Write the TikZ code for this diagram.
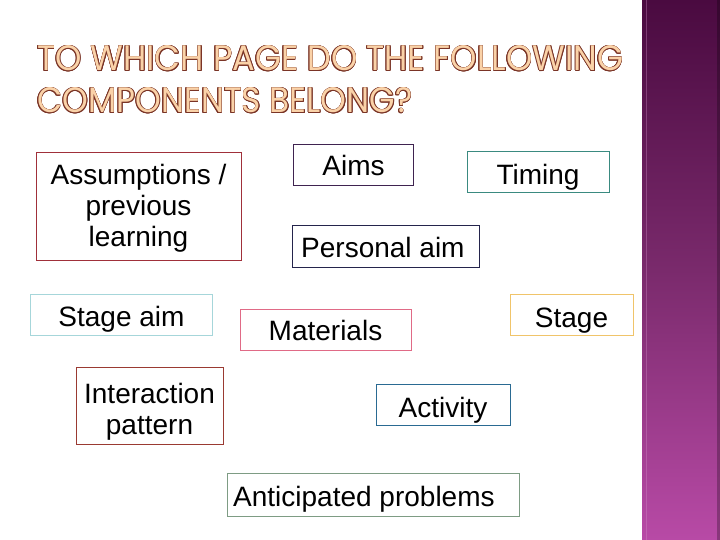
\documentclass[tikz,border=0pt]{standalone}
\usepackage{fontspec}
\setmainfont{Liberation Sans}
\newfontfamily\titlefont{Poppins}
\definecolor{ttlfill}{HTML}{FAD2A8}
\definecolor{ttlstroke}{HTML}{7A3426}
\definecolor{barTop}{HTML}{4A0A40}
\definecolor{barMid}{HTML}{7A2A6C}
\definecolor{barBot}{HTML}{B84AA6}
\definecolor{cAssump}{HTML}{A0303A}
\definecolor{cAims}{HTML}{3F2350}
\definecolor{cTiming}{HTML}{3A8A80}
\definecolor{cPersonal}{HTML}{24244C}
\definecolor{cStageAim}{HTML}{A6D6DA}
\definecolor{cMaterials}{HTML}{E06A86}
\definecolor{cStage}{HTML}{F0C46A}
\definecolor{cInter}{HTML}{9A3A32}
\definecolor{cActivity}{HTML}{2A6A92}
\definecolor{cAntic}{HTML}{7E9C84}
\tikzset{
  boxc/.style={draw=#1, line width=1pt, fill=white, inner sep=0pt},
  lbl/.style={font=\fontsize{28}{31}\selectfont, inner sep=0pt, anchor=base, align=center},
  lbll/.style={font=\fontsize{28}{31}\selectfont, inner sep=0pt, anchor=base west},
  ttl/.style={inner sep=0pt, anchor=base west}
}
\newcommand\tlineA{\resizebox{586pt}{25pt}{\titlefont TO WHICH PAGE DO THE FOLLOWING}}
\newcommand\tlineB{\resizebox{375pt}{25pt}{\titlefont COMPONENTS BELONG?}}
\begin{document}
\begin{tikzpicture}[x=1pt,y=-1pt]
\useasboundingbox (0,0) rectangle (720,540);
\fill[white] (0,0) rectangle (720,540);
% right bar
\shade[top color=barTop, bottom color=barBot, middle color=barMid] (642,0) rectangle (720,540);
\draw[barBot!60!white, opacity=0.35, line width=1.2pt] (646.5,0) -- (646.5,540);
\draw[black, opacity=0.25, line width=3pt] (718.5,0) -- (718.5,540);
% title
\foreach \a in {0,30,...,330}{
  \node[ttl, text=ttlstroke, shift={(\a:0.65pt)}] at (37,71) {\tlineA};
  \node[ttl, text=ttlstroke, shift={(\a:0.65pt)}] at (37,113) {\tlineB};
}
\node[ttl, text=ttlfill] (title1) at (37,71) {\tlineA};
\node[ttl, text=ttlfill] (title2) at (37,113) {\tlineB};
% boxes
\node[boxc=cAssump, minimum width=205pt, minimum height=108pt] (bAssump) at (138.5,206.5) {};
\node[lbl] (tAssump) at (138.5,246) {Assumptions /\\previous\\learning};
\node[boxc=cAims, minimum width=120pt, minimum height=41pt] (bAims) at (353.5,165.5) {};
\node[lbl] (tAims) at (353.5,176) {Aims};
\node[boxc=cTiming, minimum width=142pt, minimum height=41pt] (bTiming) at (538,172.5) {};
\node[lbl] (tTiming) at (538,185) {Timing};
\node[boxc=cPersonal, minimum width=187pt, minimum height=42pt] (bPersonal) at (385.5,246.5) {};
\node[lbll] (tPersonal) at (301,258) {Personal aim};
\node[boxc=cStageAim, minimum width=182pt, minimum height=41pt] (bStageAim) at (121.5,314.5) {};
\node[lbl] (tStageAim) at (121.5,326) {Stage aim};
\node[boxc=cMaterials, minimum width=171pt, minimum height=41pt] (bMaterials) at (325.5,329.5) {};
\node[lbl] (tMaterials) at (325.5,340) {Materials};
\node[boxc=cStage, minimum width=123pt, minimum height=41pt] (bStage) at (571.5,314.5) {};
\node[lbl] (tStage) at (571.5,327) {Stage};
\node[boxc=cInter, minimum width=147pt, minimum height=77pt] (bInter) at (149.5,405.5) {};
\node[lbl] (tInter) at (149.5,434) {Interaction\\pattern};
\node[boxc=cActivity, minimum width=134pt, minimum height=41pt] (bActivity) at (443,404.5) {};
\node[lbl] (tActivity) at (443,417) {Activity};
\node[boxc=cAntic, minimum width=292pt, minimum height=43pt] (bAntic) at (373,494.5) {};
\node[lbll] (tAntic) at (233,506) {Anticipated problems};
\end{tikzpicture}
\end{document}
